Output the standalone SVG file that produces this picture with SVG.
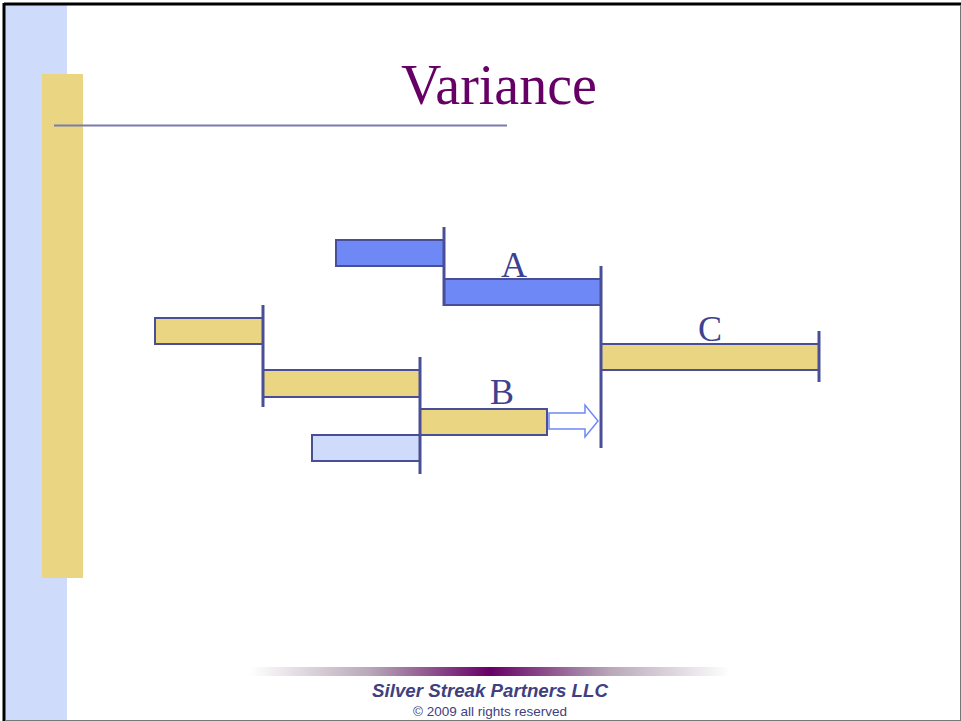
<svg xmlns="http://www.w3.org/2000/svg" width="961" height="721" viewBox="0 0 961 721">
<defs>
<style>
.bar{stroke:#4A4E96;stroke-width:2}
.blue{fill:#6E89F5}
.yel{fill:#EAD682}
.lb{fill:#CFDBFA}
.tick{stroke:#4A4E96;stroke-width:3}
.lbl{font-family:"Liberation Serif",serif;font-size:36px;fill:#3C4290;text-anchor:middle}
</style>
<linearGradient id="fg" x1="0" x2="1" y1="0" y2="0">
<stop offset="0" stop-color="#ffffff"/>
<stop offset="0.25" stop-color="#B8A8B8"/>
<stop offset="0.5" stop-color="#660066"/>
<stop offset="0.75" stop-color="#B8A8B8"/>
<stop offset="1" stop-color="#ffffff"/>
</linearGradient>
</defs>
<rect width="961" height="721" fill="#ffffff"/>
<rect x="5" y="5" width="62" height="716" fill="#CFDBFA"/>
<rect x="42" y="74" width="41" height="504" fill="#EAD682"/>
<line x1="4" y1="4" x2="961" y2="4" stroke="#000" stroke-width="3"/>
<line x1="4" y1="3" x2="4" y2="721" stroke="#000" stroke-width="3"/>
<line x1="960.5" y1="5" x2="960.5" y2="721" stroke="#777" stroke-width="1"/>
<line x1="5" y1="720.5" x2="961" y2="720.5" stroke="#777" stroke-width="1"/>
<g id="title">
<text x="499" y="104" font-family="Liberation Serif,serif" font-size="56" fill="#660066" text-anchor="middle">Variance</text>
<line x1="54" y1="125.5" x2="507" y2="125.5" stroke="#7A7AB0" stroke-width="2"/>
</g>
<g id="taskA0"><rect class="bar blue" x="336" y="240" width="108" height="26"/></g>
<g id="taskA"><rect class="bar blue" x="444" y="279" width="157" height="26"/><text class="lbl" x="514" y="277">A</text></g>
<g id="taskY1"><rect class="bar yel" x="155" y="318" width="108" height="26"/></g>
<g id="taskY2"><rect class="bar yel" x="263" y="370" width="157" height="27"/></g>
<g id="taskB"><rect class="bar yel" x="420" y="409" width="127" height="26"/><text class="lbl" x="502" y="404">B</text></g>
<g id="taskLB"><rect class="bar lb" x="312" y="435" width="108" height="26"/></g>
<g id="taskC"><rect class="bar yel" x="601" y="344" width="218" height="26"/><text class="lbl" x="710" y="341">C</text></g>
<g id="shift"><path d="M549,413 H585 V405 L598,421 L585,437 V429 H549 Z" fill="#ffffff" stroke="#6E89F5" stroke-width="1.5"/></g>
<g id="connectors">
<line class="tick" x1="444" y1="227" x2="444" y2="306"/>
<line class="tick" x1="601" y1="266" x2="601" y2="448"/>
<line class="tick" x1="263" y1="305" x2="263" y2="407"/>
<line class="tick" x1="420" y1="357" x2="420" y2="474"/>
<line class="tick" x1="819" y1="331" x2="819" y2="382"/>
</g>
<g id="footer">
<rect x="250" y="667" width="480" height="9" fill="url(#fg)"/>
<text x="490" y="697" font-family="Liberation Sans,sans-serif" font-size="18.7" font-weight="bold" font-style="italic" fill="#404080" text-anchor="middle">Silver Streak Partners LLC</text>
<text x="490" y="716" font-family="Liberation Sans,sans-serif" font-size="13.5" fill="#404080" text-anchor="middle">© 2009 all rights reserved</text>
</g>
</svg>
